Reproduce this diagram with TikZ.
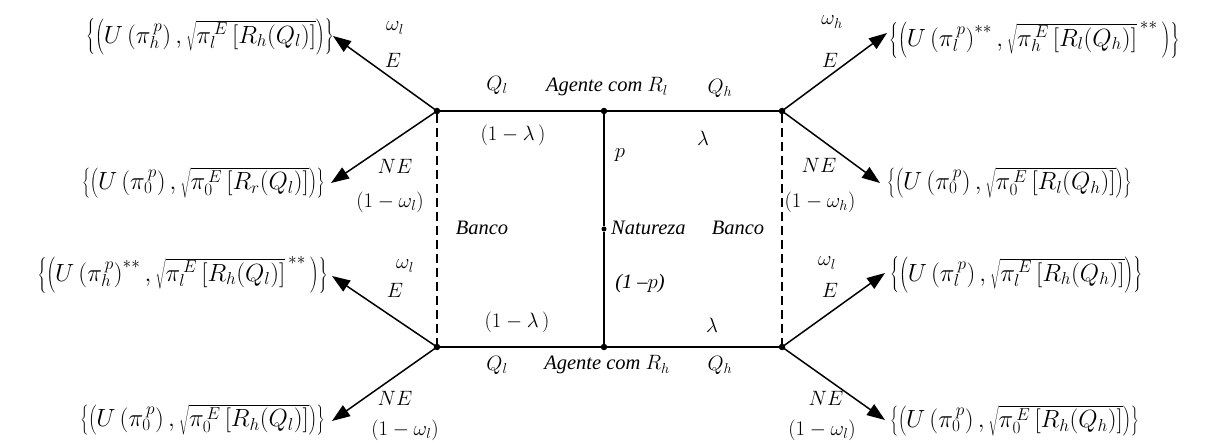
\documentclass[tikz,border=0pt]{standalone}
\usepackage{fontspec}
\setmainfont{Liberation Serif}
\usetikzlibrary{arrows.meta}
\begin{document}
\begin{tikzpicture}[x=1pt,y=-1pt,
  dot/.style={circle,fill,inner sep=0pt,minimum size=6.5pt},
  arr/.style={line width=1.5pt,-{Triangle[length=18pt,width=13pt]}},
  edgeline/.style={line width=1.2pt},
  dsh/.style={line width=1.2pt,dash pattern=on 9pt off 5pt},
  lbl/.style={inner sep=0pt,font=\fontsize{20.5}{23}\selectfont\itshape},
  pay/.style={inner sep=0pt,font=\fontsize{23}{26}\selectfont}]
\useasboundingbox (0,0) rectangle (1209,443);
% decision nodes
\node[dot] (TL) at (437,111) {};
\node[dot] (TM) at (604,111) {};
\node[dot] (TR) at (782,111) {};
\node[dot,minimum size=5pt] (N) at (604,229) {};
\node[dot] (BL) at (437,347) {};
\node[dot] (BM) at (604,347) {};
\node[dot] (BR) at (782,347) {};
% tree edges
\draw[edgeline] (TL) -- (TM) -- (TR);
\draw[edgeline] (BL) -- (BM) -- (BR);
\draw[edgeline] (TM) -- (N) -- (BM);
\draw[dsh] (TL) -- (BL);
\draw[dsh] (TR) -- (BR);
% arrow tips
\coordinate (tA) at (333,36);
\coordinate (tB) at (331,183);
\coordinate (tC) at (332,276);
\coordinate (tD) at (332,421);
\coordinate (tE) at (887,33);
\coordinate (tF) at (880,183);
\coordinate (tG) at (885,273);
\coordinate (tH) at (885,420);
\draw[arr] (TL.center) -- (tA);
\draw[arr] (TL.center) -- (tB);
\draw[arr] (BL.center) -- (tC);
\draw[arr] (BL.center) -- (tD);
\draw[arr] (TR.center) -- (tE);
\draw[arr] (TR.center) -- (tF);
\draw[arr] (BR.center) -- (tG);
\draw[arr] (BR.center) -- (tH);
% payoffs
\node[pay,anchor=east] (pA) at (334,37) {$\left\{\left(U\left(\pi_h^{\,p}\right), \sqrt{\pi_l^{\,E}\left[R_h(Q_l)\right]}\right)\right\}$};
\node[pay,anchor=east] (pB) at (325,183) {$\left\{\left(U\left(\pi_0^{\,p}\right), \sqrt{\pi_0^{\,E}\left[R_r(Q_l)\right]}\right)\right\}$};
\node[pay,anchor=east] (pC) at (328,275) {$\left\{\left(U\left(\pi_h^{\,p}\right)^{**}, \sqrt{\pi_l^{\,E}\left[R_h(Q_l)\right]}^{\,**}\,\right)\right\}$};
\node[pay,anchor=east] (pD) at (325,420) {$\left\{\left(U\left(\pi_0^{\,p}\right), \sqrt{\pi_0^{\,E}\left[R_h(Q_l)\right]}\right)\right\}$};
\node[pay,anchor=west] (pE) at (889,40) {$\left\{\left(U\left(\pi_l^{\,p}\right)^{**}, \sqrt{\pi_h^{\,E}\left[R_l(Q_h)\right]}^{\,**}\,\right)\right\}$};
\node[pay,anchor=west] (pF) at (887,183) {$\left\{\left(U\left(\pi_0^{\,p}\right), \sqrt{\pi_0^{\,E}\left[R_l(Q_h)\right]}\right)\right\}$};
\node[pay,anchor=west] (pG) at (890,275) {$\left\{\left(U\left(\pi_l^{\,p}\right), \sqrt{\pi_l^{\,E}\left[R_h(Q_h)\right]}\right)\right\}$};
\node[pay,anchor=west] (pH) at (890,421) {$\left\{\left(U\left(\pi_0^{\,p}\right), \sqrt{\pi_0^{\,E}\left[R_h(Q_h)\right]}\right)\right\}$};
% left labels
\node[lbl] (wl1) at (395,28) {$\omega_l$};
\node[lbl] (e1) at (393,60) {$E$};
\node[lbl] (ne1) at (395,166) {$NE$};
\node[lbl] (ow1) at (390,202) {$(1-\omega_l)$};
\node[lbl] (wl2) at (405,266) {$\omega_l$};
\node[lbl] (e2) at (395,290) {$E$};
\node[lbl] (ne2) at (395,398) {$NE$};
\node[lbl] (ow2) at (405,430) {$(1-\omega_l)$};
% centre labels
\node[lbl] (ql1) at (497,85) {$Q_l$};
\node[lbl] (ag1) at (607,87) {Agente com $R_l$};
\node[lbl] (qh1) at (720,88) {$Q_h$};
\node[lbl] (lam1) at (513,135) {$(1-\lambda\,)$};
\node[lbl] (lamb1) at (703,138) {$\lambda$};
\node[lbl] (pp) at (620,155) {$p$};
\node[lbl] (banco1) at (482,228) {Banco};
\node[lbl,anchor=west] (nat) at (611,228) {Natureza};
\node[lbl] (banco2) at (738,228) {Banco};
\node[lbl] (omp) at (640,284) {(1 –$p$)};
\node[lbl] (lam2) at (517,322) {$(1-\lambda\,)$};
\node[lbl] (lamb2) at (712,325) {$\lambda$};
\node[lbl] (ql2) at (497,365) {$Q_l$};
\node[lbl] (ag2) at (607,365) {Agente com $R_h$};
\node[lbl] (qh2) at (720,365) {$Q_h$};
% right labels
\node[lbl] (wh1) at (832,22) {$\omega_h$};
\node[lbl] (e3) at (830,60) {$E$};
\node[lbl] (ne3) at (819,165) {$NE$};
\node[lbl] (ow3) at (820,202) {$(1-\omega_h)$};
\node[lbl] (wl3) at (827,263) {$\omega_l$};
\node[lbl] (e4) at (830,290) {$E$};
\node[lbl] (ne4) at (826,398) {$NE$};
\node[lbl] (ow4) at (822,430) {$(1-\omega_l)$};
\end{tikzpicture}
\end{document}
